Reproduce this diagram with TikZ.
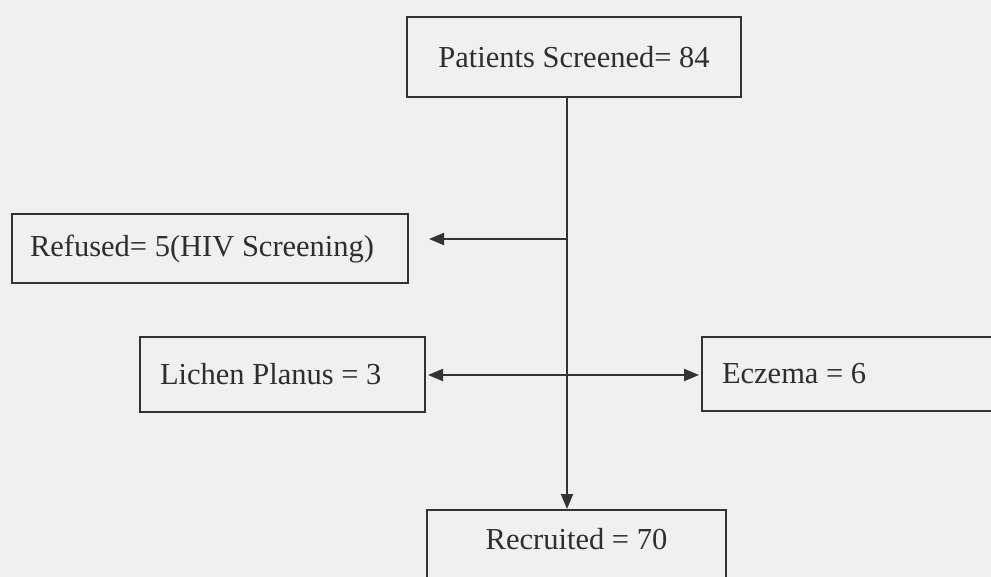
\documentclass[tikz,border=0pt]{standalone}
\usepackage{fontspec}
\setmainfont{Liberation Serif}
\usetikzlibrary{arrows.meta}
\definecolor{ink}{HTML}{333333}
\definecolor{paper}{HTML}{F0F0F0}
\begin{document}
\begin{tikzpicture}[x=1pt,y=-1pt,
  box/.style={draw=ink,line width=2pt,fill=paper,inner sep=0pt,
    font=\fontsize{30.5}{36}\selectfont,text=ink!90!black},
  conn/.style={draw=ink,line width=2pt},
  tip/.style={-{Triangle[length=15pt,width=12pt]}}]
\fill[paper] (0,0) rectangle (991,577);
\useasboundingbox (0,0) rectangle (991,577);
\clip (0,0) rectangle (991,577);
% nodes
\node[box,minimum width=334pt,minimum height=80pt] (top) at (574,57) {Patients Screened= 84};
\node[box,minimum width=396pt,minimum height=69pt,text width=360pt,align=flush left] (ref) at (210,249) {Refused= 5(HIV Screening)};
\node[box,minimum width=285pt,minimum height=75pt,text width=245pt,align=flush left] (lich) at (282.5,374.5) {Lichen Planus = 3};
\node[box,minimum width=320pt,minimum height=74pt,text width=280pt,align=flush left,inner xsep=20pt] (ecz) at (862,374) {Eczema = 6};
\node[box,minimum width=299pt,text height=39pt,text depth=60pt,anchor=north] (rec) at (576.5,509) {Recruited = 70};
% trunk junctions
\coordinate (j1) at (567,239);
\coordinate (j2) at (567,375);
% connectors
\draw[conn,tip] (top.south -| j1) -- (rec.north -| j1);
\draw[conn,tip,shorten >=20pt] (j1) -- (ref.east |- j1);
\draw[conn,{Triangle[length=15pt,width=12pt]}-{Triangle[length=15pt,width=12pt]},shorten <=2pt,shorten >=2pt] (lich.east |- j2) -- (ecz.west |- j2);
\end{tikzpicture}
\end{document}
